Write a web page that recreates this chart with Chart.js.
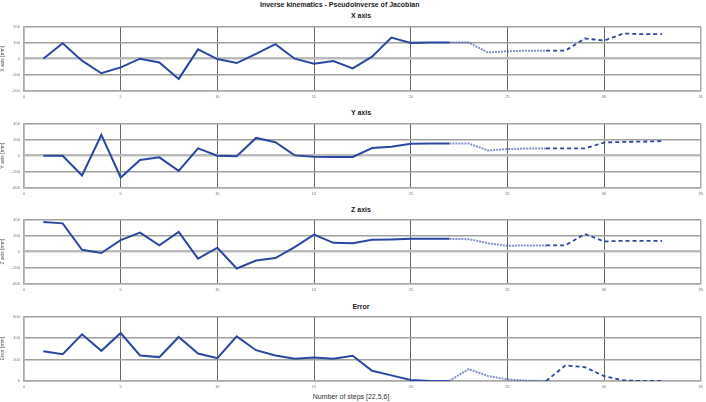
<!DOCTYPE html>
<html>
<head>
<meta charset="utf-8">
<script src="https://cdn.jsdelivr.net/npm/chart.js@4.4.0/dist/chart.umd.min.js"></script>
<style>
  html, body { margin:0; padding:0; background:#fff; }
  body { width:706px; height:402px; position:relative; overflow:hidden; font-family:"Liberation Sans", Arial, sans-serif; }
  canvas { position:absolute; left:0; }
  .t { position:absolute; font-weight:bold; font-size:7px; line-height:8px; color:#222; white-space:nowrap; }
  .sub { width:120px; text-align:center; left:301px; }
  .xl { position:absolute; font-size:7px; line-height:8px; color:#333; white-space:nowrap; width:200px; text-align:center; left:251px; top:393px; }
</style>
</head>
<body>
<div class="t" style="left:260px; top:1px;">Inverse kinematics - Pseudoinverse of Jacobian</div>
<div class="t sub" style="top:12px;">X axis</div>
<div class="t sub" style="top:109px;">Y axis</div>
<div class="t sub" style="top:206px;">Z axis</div>
<div class="t sub" style="top:303px;">Error</div>
<div class="xl">Number of steps [22,5,6]</div>
<canvas id="c1" width="706" height="81" style="top:20px"></canvas>
<canvas id="c2" width="706" height="81" style="top:117px"></canvas>
<canvas id="c3" width="706" height="81" style="top:213px"></canvas>
<canvas id="c4" width="706" height="81" style="top:310px"></canvas>
<script>
const steps = [1,2,3,4,5,6,7,8,9,10,11,12,13,14,15,16,17,18,19,20,21,22,23,24,25,26,27,28,29,30,31,32,33];
const xAxisVals = [0,96,-12,-90,-54,0,-23,-125,58,-2,-27,30,90,0,-31,-15,-60,13,131,98,100,100,100,38,46,50,50,50,125,112,156,152,152];
const yAxisVals = [0,0,-245,257,-270,-53,-20,-188,90,0,-8,220,167,4,-12,-16,-16,94,110,147,151,151,151,65,82,90,90,90,90,163,171,175,180];
const zAxisVals = [367,351,24,-16,143,237,78,245,-86,49,-208,-110,-78,57,212,110,104,147,151,159,159,159,155,106,73,78,78,78,220,127,135,135,135];
const errorVals = [277,249,434,280,446,237,222,409,255,212,415,286,237,206,218,206,234,95,52,9,0,0,111,46,15,3,0,145,129,46,6,0,0];
const xTicks = [0,5,10,15,20,25,30,35];

const LINE = '#2b48a0';
const FONT = '"Liberation Sans", Arial, sans-serif';

function panel(id, vals, yMin, yMax, yStep, yTitle) {
  const pts = steps.map((s, i) => ({x: s, y: vals[i]}));
  new Chart(document.getElementById(id), {
    type: 'line',
    data: {
      datasets: [
        {data: pts.slice(0, 22), borderColor: LINE, borderWidth: 2},
        {data: pts.slice(21, 27), borderColor: 'rgba(43,72,160,0.6)', borderWidth: 2, borderDash: [2, 1]},
        {data: pts.slice(26), borderColor: LINE, borderWidth: 1.8, borderDash: [4, 3]}
      ]
    },
    options: {
      responsive: false,
      animation: false,
      devicePixelRatio: 1,
      layout: {padding: {top: 6, right: 3, left: 0, bottom: 0}},
      plugins: {legend: {display: false}, tooltip: {enabled: false}, title: {display: false}},
      elements: {point: {radius: 0}, line: {tension: 0, fill: false}},
      scales: {
        x: {
          type: 'linear', min: 0, max: 35,
          afterBuildTicks: s => { s.ticks = xTicks.map(v => ({value: v})); },
          afterFit: s => { s.height = 10; },
          ticks: {font: {size: 4, family: FONT}, color: '#777', padding: 3, maxRotation: 0, autoSkip: false},
          grid: {
            drawTicks: false,
            color: c => (c.tick && (c.tick.value === 0 || c.tick.value === 35)) ? '#aaa' : '#666',
            lineWidth: c => (c.tick && (c.tick.value === 0 || c.tick.value === 35)) ? 1.5 : 1
          },
          border: {display: true, color: '#aaa', width: 1.5}
        },
        y: {
          min: yMin, max: yMax,
          ticks: {stepSize: yStep, font: {size: 4, family: FONT}, color: '#777', padding: 4},
          afterFit: s => { s.width = 24; },
          title: {display: true, text: yTitle, font: {size: 5, family: FONT}, color: '#555', padding: 0},
          grid: {
            drawTicks: false,
            color: c => (c.tick && c.tick.value === 0 && yMin < 0) ? '#bbb' : '#a0a0a0',
            lineWidth: c => (c.tick && c.tick.value === 0 && yMin < 0) ? 2.5 : 1.5
          },
          border: {display: true, color: '#aaa', width: 1.5}
        }
      }
    }
  });
}

panel('c1', xAxisVals, -200, 200, 100, 'X axis [mm]');
panel('c2', yAxisVals, -400, 400, 200, 'Y axis [mm]');
panel('c3', zAxisVals, -400, 400, 200, 'Z axis [mm]');
panel('c4', errorVals, 0, 600, 200, 'Error [mm]');
</script>
</body>
</html>
